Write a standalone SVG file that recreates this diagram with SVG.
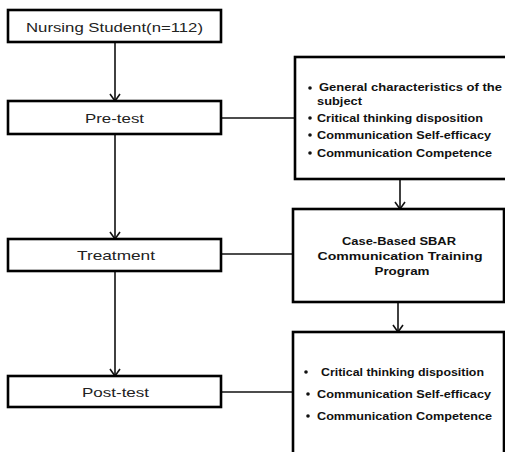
<svg xmlns="http://www.w3.org/2000/svg" width="505" height="452" viewBox="0 0 505 452">
<defs>
<marker id="arr" viewBox="0 0 12 12" refX="11" refY="6" markerWidth="12" markerHeight="12" markerUnits="userSpaceOnUse" orient="auto">
<path d="M4,1 L11,6 L4,11" fill="none" stroke="#111" stroke-width="1.6"/>
</marker>
<style>
.box{fill:#fff;stroke:#000;stroke-width:2.6}
.lbl{font-family:"Liberation Sans",Arial,sans-serif;font-size:13px;fill:#222}
.bt{font-family:"Liberation Sans",Arial,sans-serif;font-size:10.5px;font-weight:bold;fill:#111}
.pt{font-family:"Liberation Sans",Arial,sans-serif;font-size:11.5px;font-weight:bold;fill:#111;text-anchor:middle}
.ln{fill:none;stroke:#111;stroke-width:1.6}
.bul{fill:#111}
</style>
</defs>
<rect width="505" height="452" fill="#fff"/>
<g id="connectors">
<line class="ln" x1="115" y1="42" x2="115" y2="101" marker-end="url(#arr)"/>
<line class="ln" x1="115" y1="134" x2="115" y2="239" marker-end="url(#arr)"/>
<line class="ln" x1="115" y1="271" x2="115" y2="376" marker-end="url(#arr)"/>
<line class="ln" x1="221" y1="118" x2="295" y2="118"/>
<line class="ln" x1="221" y1="254" x2="293" y2="254"/>
<line class="ln" x1="221" y1="392" x2="293" y2="392"/>
<line class="ln" x1="400" y1="179" x2="400" y2="209" marker-end="url(#arr)"/>
<line class="ln" x1="398" y1="302" x2="398" y2="332" marker-end="url(#arr)"/>
</g>
<g id="nursing">
<rect class="box" x="8" y="10" width="213" height="32"/>
<text class="lbl" x="26" y="32" textLength="177" lengthAdjust="spacingAndGlyphs">Nursing Student(n=112)</text>
</g>
<g id="pretest">
<rect class="box" x="8" y="101" width="213" height="33"/>
<text class="lbl" x="85" y="123" textLength="59" lengthAdjust="spacingAndGlyphs">Pre-test</text>
</g>
<g id="treatment">
<rect class="box" x="8" y="239" width="213" height="32"/>
<text class="lbl" x="77" y="260" textLength="78" lengthAdjust="spacingAndGlyphs">Treatment</text>
</g>
<g id="posttest">
<rect class="box" x="8" y="376" width="213" height="31"/>
<text class="lbl" x="82" y="397" textLength="67" lengthAdjust="spacingAndGlyphs">Post-test</text>
</g>
<g id="pretest-measures">
<rect class="box" x="295" y="57" width="220" height="122"/>
<circle class="bul" cx="310" cy="88" r="1.8"/>
<text class="bt" x="319" y="91" textLength="183" lengthAdjust="spacingAndGlyphs">General characteristics of the</text>
<text class="bt" x="317" y="105" textLength="45" lengthAdjust="spacingAndGlyphs">subject</text>
<circle class="bul" cx="310" cy="118" r="1.8"/>
<text class="bt" x="317" y="122" textLength="166" lengthAdjust="spacingAndGlyphs">Critical thinking disposition</text>
<circle class="bul" cx="310" cy="135" r="1.8"/>
<text class="bt" x="317" y="139" textLength="174" lengthAdjust="spacingAndGlyphs">Communication Self-efficacy</text>
<circle class="bul" cx="310" cy="153" r="1.8"/>
<text class="bt" x="317" y="157" textLength="175" lengthAdjust="spacingAndGlyphs">Communication Competence</text>
</g>
<g id="program">
<rect class="box" x="293" y="209" width="211" height="93"/>
<text class="pt" x="399" y="245" textLength="114" lengthAdjust="spacingAndGlyphs">Case-Based SBAR</text>
<text class="pt" x="400" y="260" textLength="165" lengthAdjust="spacingAndGlyphs">Communication Training</text>
<text class="pt" x="402" y="275" textLength="55" lengthAdjust="spacingAndGlyphs">Program</text>
</g>
<g id="posttest-measures">
<rect class="box" x="293" y="332" width="211" height="130"/>
<circle class="bul" cx="306" cy="372" r="1.8"/>
<text class="bt" x="321" y="376" textLength="163" lengthAdjust="spacingAndGlyphs">Critical thinking disposition</text>
<circle class="bul" cx="308" cy="394" r="1.8"/>
<text class="bt" x="317" y="398" textLength="174" lengthAdjust="spacingAndGlyphs">Communication Self-efficacy</text>
<circle class="bul" cx="308" cy="416" r="1.8"/>
<text class="bt" x="317" y="420" textLength="175" lengthAdjust="spacingAndGlyphs">Communication Competence</text>
</g>
</svg>
